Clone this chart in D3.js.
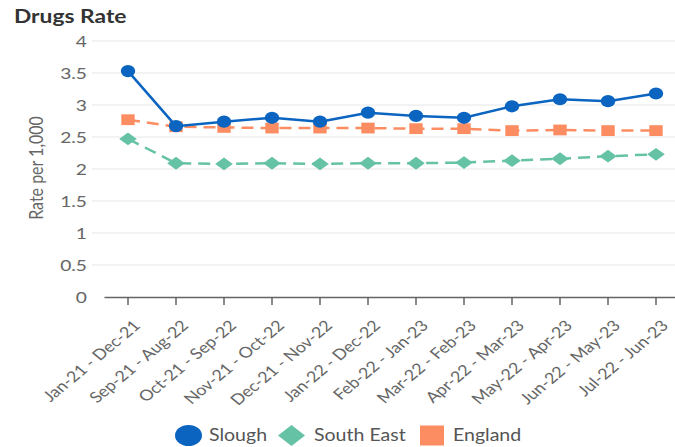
<!DOCTYPE html>
<html>
<head>
<meta charset="utf-8">
<script src="https://cdn.jsdelivr.net/npm/d3@7"></script>
<style>
  body { margin: 0; background: #fff; }
  svg { font-family: Lato, "Open Sans", sans-serif; display: block; }
</style>
</head>
<body>
<script>
const w = 675;
const h = 447;
const stretch = 1.2; // the reference is a bit wider than tall in its glyphs

// data
const periods = ["Jan-21 - Dec-21", "Sep-21 - Aug-22", "Oct-21 - Sep-22", "Nov-21 - Oct-22",
  "Dec-21 - Nov-22", "Jan-22 - Dec-22", "Feb-22 - Jan-23", "Mar-22 - Feb-23",
  "Apr-22 - Mar-23", "May-22 - Apr-23", "Jun-22 - May-23", "Jul-22 - Jun-23"];
const slough = [3.53, 2.67, 2.74, 2.80, 2.74, 2.88, 2.83, 2.80, 2.98, 3.09, 3.06, 3.18];
const southEast = [2.47, 2.09, 2.08, 2.09, 2.08, 2.09, 2.09, 2.10, 2.13, 2.16, 2.20, 2.23];
const england = [2.77, 2.66, 2.65, 2.64, 2.64, 2.64, 2.63, 2.63, 2.60, 2.61, 2.60, 2.60];
const yTicks = [0, 0.5, 1, 1.5, 2, 2.5, 3, 3.5, 4];

const seriesList = [
  { name: "Slough", values: slough, color: "#0a64c0", dash: null, marker: "circle" },
  { name: "South East", values: southEast, color: "#66c2a5", dash: "12,7", marker: "diamond" },
  { name: "England", values: england, color: "#fc8d62", dash: "12,7", marker: "square" }
];

const svg = d3.select("body").append("svg")
  .attr("width", w)
  .attr("height", h);

var x = d3.scaleBand()
  .domain(periods)
  .range([104, 680]);

var y = d3.scaleLinear()
  .domain([0, 4])
  .range([297, 41]);

// title
svg.append("text")
  .attr("transform", "translate(14,23) scale(" + stretch + ",1)")
  .attr("font-size", 19)
  .attr("font-weight", "bold")
  .attr("fill", "#333")
  .text("Drugs Rate");

// gridlines
svg.append("g").selectAll("line")
  .data(yTicks.filter(d => d > 0))
  .enter().append("line")
  .attr("x1", 92)
  .attr("x2", w)
  .attr("y1", d => y(d))
  .attr("y2", d => y(d))
  .attr("stroke", "#e6e6e6")
  .attr("stroke-width", 1);

// y tick labels
svg.append("g").selectAll("text")
  .data(yTicks)
  .enter().append("text")
  .attr("transform", d => "translate(87," + (y(d) + 6) + ") scale(" + stretch + ",1)")
  .attr("text-anchor", "end")
  .attr("font-size", 16)
  .attr("fill", "#666")
  .text(d => d);

// y axis title
svg.append("text")
  .attr("transform", "translate(43,168) scale(" + stretch + ",1) rotate(-90)")
  .attr("text-anchor", "middle")
  .attr("font-size", 16)
  .attr("fill", "#666")
  .text("Rate per 1,000");

// x axis
var xAxis = svg.append("g")
  .attr("transform", "translate(0,297)")
  .call(d3.axisBottom(x).tickSize(8).tickSizeOuter(0));

xAxis.select(".domain").attr("stroke", "#666").attr("stroke-width", 1.5);
xAxis.selectAll(".tick line").attr("stroke", "#666").attr("stroke-width", 1.5);
xAxis.selectAll(".tick text")
  .attr("font-family", "Lato, sans-serif")
  .attr("font-size", 15)
  .attr("fill", "#666")
  .attr("text-anchor", "end")
  .attr("dy", "0.35em")
  .attr("transform", "translate(9,26) scale(" + stretch + ",1) rotate(-45)")
  .attr("x", 0)
  .attr("y", 0);

var cx = function(i) { return x(periods[i]) + x.bandwidth() / 2; };

// hw, hh = half width / half height of the marker
function drawMarker(g, type, color, px, py, hw, hh) {
  if (type == "circle") {
    g.append("ellipse")
      .attr("cx", px).attr("cy", py)
      .attr("rx", hw).attr("ry", hh)
      .attr("fill", color);
  } else if (type == "diamond") {
    g.append("path")
      .attr("d", "M" + px + "," + (py - hh) + "L" + (px + hw) + "," + py +
        "L" + px + "," + (py + hh) + "L" + (px - hw) + "," + py + "Z")
      .attr("fill", color);
  } else {
    g.append("rect")
      .attr("x", px - hw).attr("y", py - hh)
      .attr("width", hw * 2).attr("height", hh * 2)
      .attr("fill", color);
  }
}

var markerSize = {
  circle: [7.2, 6.1],
  diamond: [8.8, 6.4],
  square: [6.7, 5.4]
};

// draw England first, then South East, then Slough on top
var drawOrder = [seriesList[2], seriesList[1], seriesList[0]];

drawOrder.forEach(function(s) {
  var line = d3.line()
    .x((d, i) => cx(i))
    .y(d => y(d));

  svg.append("path")
    .datum(s.values)
    .attr("d", line)
    .attr("fill", "none")
    .attr("stroke", s.color)
    .attr("stroke-width", 2.5)
    .attr("stroke-dasharray", s.dash);

  var g = svg.append("g");
  s.values.forEach(function(v, i) {
    drawMarker(g, s.marker, s.color, cx(i), y(v), markerSize[s.marker][0], markerSize[s.marker][1]);
  });
});

// legend
var legendPos = [
  { mx: 188.5, tx: 209, hw: 13.5, hh: 10.5 },
  { mx: 291.5, tx: 314, hw: 13.5, hh: 10.5 },
  { mx: 432, tx: 453, hw: 12, hh: 10 }
];

seriesList.forEach(function(s, i) {
  var g = svg.append("g");
  drawMarker(g, s.marker, s.color, legendPos[i].mx, 435.5, legendPos[i].hw, legendPos[i].hh);
  svg.append("text")
    .attr("transform", "translate(" + legendPos[i].tx + ",441) scale(1.15,1)")
    .attr("font-size", 17)
    .attr("fill", "#555")
    .text(s.name);
});
</script>
</body>
</html>
